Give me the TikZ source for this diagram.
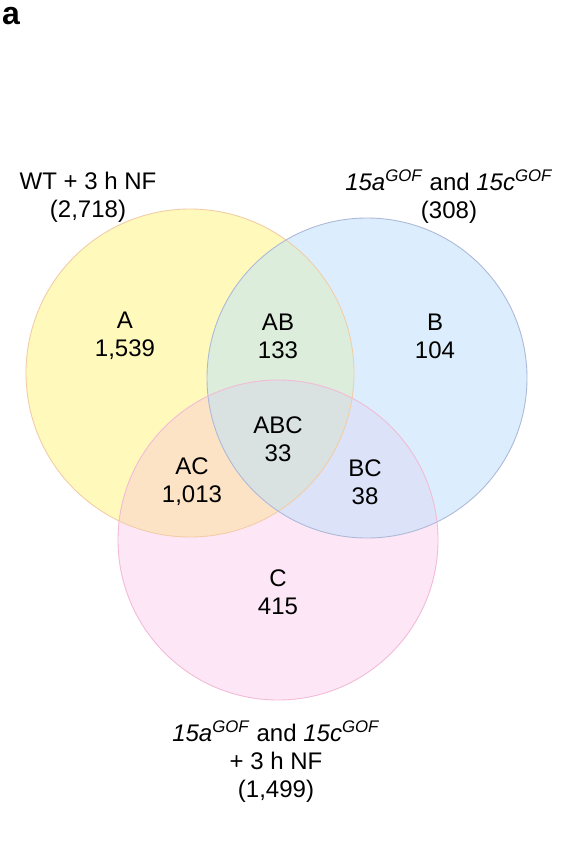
\documentclass[tikz,border=0pt]{standalone}
\usepackage{fontspec}
\setmainfont{Liberation Sans}
\definecolor{cA}{HTML}{FFF9BB}
\definecolor{cB}{HTML}{DCEEFD}
\definecolor{cC}{HTML}{FDE7F6}
\definecolor{cAB}{HTML}{DCEEDB}
\definecolor{cAC}{HTML}{FDE3C6}
\definecolor{cBC}{HTML}{DCE3F8}
\definecolor{cABC}{HTML}{D9E1E1}
\definecolor{bA}{HTML}{F2CDA8}
\definecolor{bB}{HTML}{AEB9D8}
\definecolor{bC}{HTML}{F2BBD6}
\begin{document}
\begin{tikzpicture}[x=1pt,y=-1pt,
  lbl/.style={align=center,font=\fontsize{24}{28}\selectfont,inner sep=0pt},
  rim/.style={line width=0.9pt}]
\useasboundingbox (0,0) rectangle (574,845);
\coordinate (ca) at (190,373);
\coordinate (cb) at (367,378);
\coordinate (cc) at (278,540);
\def\rA{164pt}
\def\rB{160pt}
\def\rC{160pt}
% base fills
\fill[cA] (ca) circle[radius=\rA];
\fill[cB] (cb) circle[radius=\rB];
\fill[cC] (cc) circle[radius=\rC];
% pairwise overlaps
\begin{scope}
  \clip (ca) circle[radius=\rA];
  \fill[cAB] (cb) circle[radius=\rB];
  \fill[cAC] (cc) circle[radius=\rC];
\end{scope}
\begin{scope}
  \clip (cb) circle[radius=\rB];
  \fill[cBC] (cc) circle[radius=\rC];
\end{scope}
\begin{scope}
  \clip (ca) circle[radius=\rA];
  \clip (cb) circle[radius=\rB];
  \fill[cABC] (cc) circle[radius=\rC];
\end{scope}
% rims
\draw[rim,bA] (ca) circle[radius=\rA];
\draw[rim,bB] (cb) circle[radius=\rB];
\draw[rim,bC] (cc) circle[radius=\rC];
% panel letter
\node[font=\fontsize{32}{32}\selectfont\bfseries,inner sep=0pt] (panel) at (11,16) {a};
% set titles
\node[lbl] (tA) at (88,197) {WT + 3 h NF\\(2,718)};
\node[lbl] (tB) at (449,197) {\textit{15a}\textsuperscript{\textit{GOF}} and \textit{15c}\textsuperscript{\textit{GOF}}\\(308)};
\node[lbl] (tC) at (276,762) {\textit{15a}\textsuperscript{\textit{GOF}} and \textit{15c}\textsuperscript{\textit{GOF}}\\+ 3 h NF\\(1,499)};
% region labels
\node[lbl] (lA) at (125,336) {A\\1,539};
\node[lbl] (lAB) at (278,336) {AB\\133};
\node[lbl] (lB) at (435,336) {B\\104};
\node[lbl] (lABC) at (278,439) {ABC\\33};
\node[lbl] (lAC) at (192,482) {AC\\1,013};
\node[lbl] (lBC) at (365,482) {BC\\38};
\node[lbl] (lC) at (278,592) {C\\415};
\end{tikzpicture}
\end{document}
